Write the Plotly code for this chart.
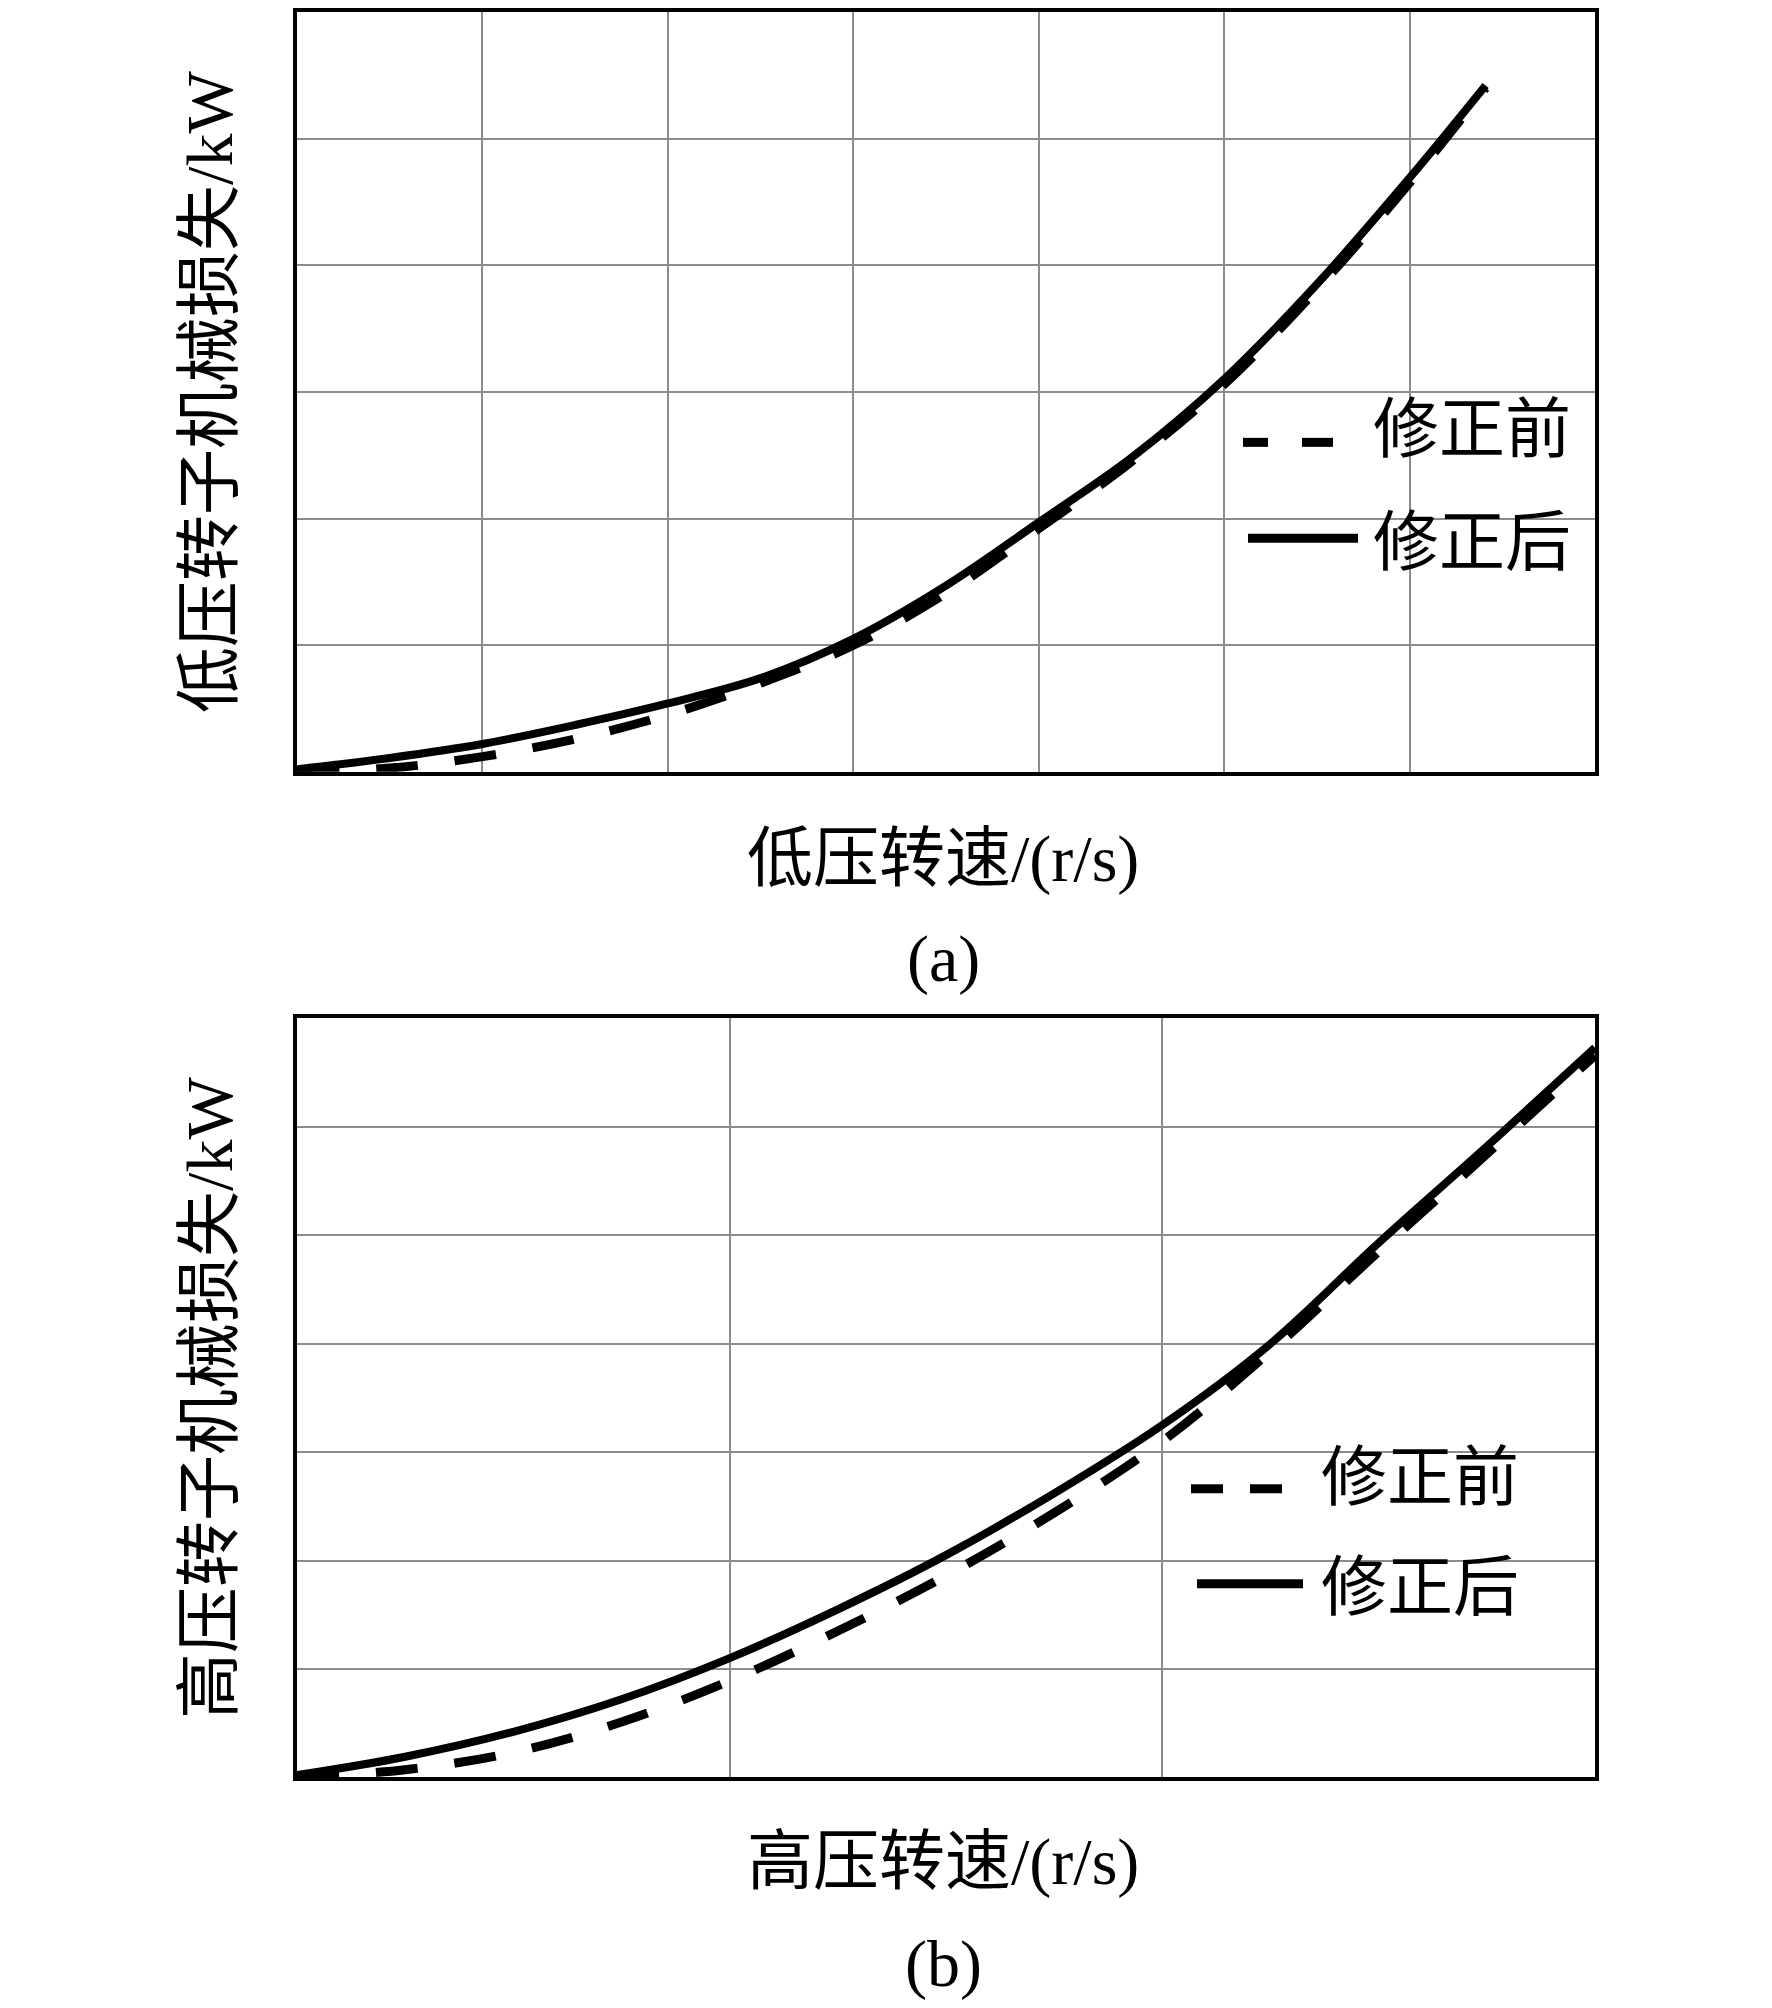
import plotly.graph_objects as go

# ---- data (grid units, axes carry no tick labels) ----
lp_speed = [0, 0.5, 1, 1.5, 2, 2.5, 3, 3.5, 4, 4.5, 5, 5.5, 6, 6.41]
lp_before = [0, 0.03, 0.12, 0.26, 0.45, 0.70, 1.0, 1.41, 1.92, 2.45, 3.06, 3.81, 4.65, 5.40]
lp_after = [0.02, 0.11, 0.22, 0.37, 0.54, 0.74, 1.05, 1.47, 1.97, 2.48, 3.10, 3.85, 4.69, 5.42]

hp_speed = [0, 0.25, 0.5, 0.75, 1.0, 1.25, 1.5, 1.75, 2.0, 2.25, 2.5, 2.75, 3.0]
hp_before = [0, 0.07, 0.23, 0.51, 0.89, 1.35, 1.86, 2.44, 3.10, 3.93, 4.85, 5.75, 6.66]
hp_after = [0.02, 0.19, 0.42, 0.72, 1.10, 1.55, 2.05, 2.62, 3.25, 4.00, 4.93, 5.82, 6.73]

legend_names = ["修正前", "修正后"]
x_titles = ["低压转速/(r/s)", "高压转速/(r/s)"]
y_titles = ["低压转子机械损失/kW", "高压转子机械损失/kW"]
panel_tags = ["(a)", "(b)"]

# page is 1772x2008, the body keeps an 8px margin round the plot div
OFF = 8
W, H = 1772 - 2 * OFF, 2008 - 2 * OFF
FONT = "Times New Roman, Liberation Serif, Noto Sans CJK SC"
FS = 66


def px(x):
	return (x - OFF) / W


def py(y):
	return 1 - (y - OFF) / H


fig = go.Figure()

dash_style = dict(color="black", width=9, dash="42px,37px")
solid_style = dict(color="black", width=8)

fig.add_trace(go.Scatter(x=lp_speed, y=lp_before, mode="lines", line=dict(shape="spline", **dash_style),
						 name=legend_names[0], xaxis="x", yaxis="y", showlegend=False))
fig.add_trace(go.Scatter(x=lp_speed, y=lp_after, mode="lines", line=dict(shape="spline", **solid_style),
						 name=legend_names[1], xaxis="x", yaxis="y", showlegend=False))
fig.add_trace(go.Scatter(x=hp_speed, y=hp_before, mode="lines", line=dict(shape="spline", **dash_style),
						 name=legend_names[0], xaxis="x2", yaxis="y2", showlegend=False))
fig.add_trace(go.Scatter(x=hp_speed, y=hp_after, mode="lines", line=dict(shape="spline", **solid_style),
						 name=legend_names[1], xaxis="x2", yaxis="y2", showlegend=False))

axis_common = dict(showline=True, mirror=True, linecolor="black", linewidth=4,
				   showgrid=True, gridcolor="#8c8c8c", gridwidth=2,
				   zeroline=False, showticklabels=False, ticks="", dtick=1)

# panel layout in page pixels: (left, top, right, bottom)
pa = (297, 9, 1595, 770)
pb = (297, 1017, 1595, 1777)

fig.update_layout(
	width=W, height=H,
	margin=dict(l=0, r=0, t=0, b=0),
	paper_bgcolor="white", plot_bgcolor="white",
	showlegend=False,
	xaxis=dict(domain=[px(pa[0]), px(pa[2])], range=[0, 7], anchor="y", **axis_common),
	yaxis=dict(domain=[py(pa[3]), py(pa[1])], range=[0, 6], anchor="x", **axis_common),
	xaxis2=dict(domain=[px(pb[0]), px(pb[2])], range=[0, 3], anchor="y2", **axis_common),
	yaxis2=dict(domain=[py(pb[3]), py(pb[1])], range=[0, 7], anchor="x2", **axis_common),
)

shapes = []
# white legend patches hiding the grid
for x0, y0, x1, y1 in [(1198, 410, 1590, 577), (1307, 383, 1590, 410), (1147, 1447, 1540, 1625)]:
	shapes.append(dict(type="rect", xref="paper", yref="paper", layer="between",
					   x0=px(x0), x1=px(x1), y0=py(y1), y1=py(y0),
					   fillcolor="white", line=dict(width=0)))

# legend samples
legend_pos = [
	dict(dash=[(1243, 1268), (1302, 1333)], dash_y=440, solid=(1248, 1358), solid_y=536,
		 text_x=1472, text_y=[427, 540]),
	dict(dash=[(1191, 1223), (1250, 1282)], dash_y=1488, solid=(1197, 1303), solid_y=1583,
		 text_x=1420, text_y=[1477, 1587]),
]
annotations = []
for lp in legend_pos:
	for d0, d1 in lp["dash"]:
		shapes.append(dict(type="line", xref="paper", yref="paper", x0=px(d0), x1=px(d1),
						   y0=py(lp["dash_y"]), y1=py(lp["dash_y"]), line=dict(color="black", width=9)))
	shapes.append(dict(type="line", xref="paper", yref="paper", x0=px(lp["solid"][0]), x1=px(lp["solid"][1]),
					   y0=py(lp["solid_y"]), y1=py(lp["solid_y"]), line=dict(color="black", width=9)))
	for name, ty in zip(legend_names, lp["text_y"]):
		annotations.append(dict(text=name, xref="paper", yref="paper", x=px(lp["text_x"]), y=py(ty),
								showarrow=False, xanchor="center", yanchor="middle",
								font=dict(family=FONT, size=FS, color="black")))

# axis titles and panel tags
for i, (top, bottom) in enumerate([(pa[1], pa[3]), (pb[1], pb[3])]):
	annotations.append(dict(text=y_titles[i], xref="paper", yref="paper", x=px(210), y=py((top + bottom) / 2),
							textangle=-90, showarrow=False, xanchor="center", yanchor="middle",
							font=dict(family=FONT, size=FS, color="black")))
for txt, ty in zip(x_titles, [857, 1862]):
	annotations.append(dict(text=txt, xref="paper", yref="paper", x=px(943), y=py(ty),
							showarrow=False, xanchor="center", yanchor="middle",
							font=dict(family=FONT, size=FS, color="black")))
for txt, ty in zip(panel_tags, [957, 1964]):
	annotations.append(dict(text=txt, xref="paper", yref="paper", x=px(943), y=py(ty),
							showarrow=False, xanchor="center", yanchor="middle",
							font=dict(family=FONT, size=FS, color="black")))

fig.update_layout(shapes=shapes, annotations=annotations)

fig.write_html("out.html")
